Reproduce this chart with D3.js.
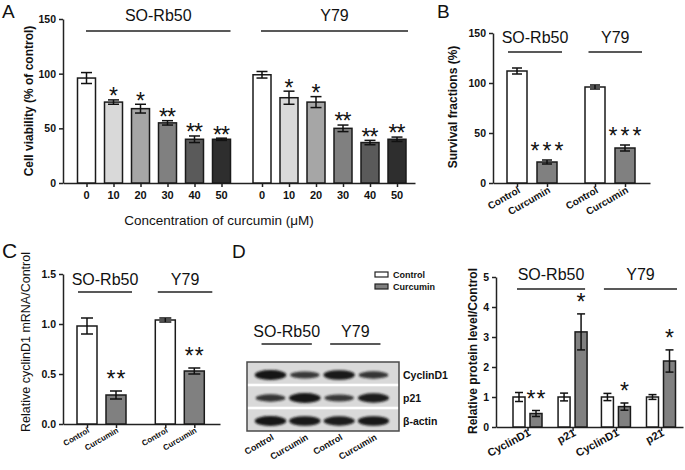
<!DOCTYPE html>
<html>
<head>
<meta charset="utf-8">
<script src="https://cdn.jsdelivr.net/npm/d3@7"></script>
<style>
body { margin: 0; background: #fff; }
text { font-family: "Liberation Sans", Arial, sans-serif; fill: #111; }
</style>
</head>
<body>
<div id="fig"></div>
<script>
// ---- data --------------------------------------------------------------
var groups = ["SO-Rb50", "Y79"];

// A: cell viability vs curcumin dose
var doses = ["0", "10", "20", "30", "40", "50"];
var viabSO = [96, 74, 68, 55, 40, 40];
var viabSOErr = [5, 2, 4, 2, 3, 1];
var viabY = [99, 78, 74, 50, 37, 40];
var viabYErr = [3, 6, 5, 3, 2, 2];
var viabStars = ["", "*", "*", "**", "**", "**"];
var viabTicks = [0, 50, 100, 150];

// B: survival fractions
var conds = ["Control", "Curcumin"];
var survSO = [112, 21];
var survSOErr = [3, 2];
var survY = [96, 35];
var survYErr = [2, 3];
var survStars = ["", "***"];
var survTicks = [0, 50, 100, 150];

// C: cyclinD1 mRNA
var mrnaSO = [0.98, 0.29];
var mrnaSOErr = [0.08, 0.04];
var mrnaY = [1.04, 0.53];
var mrnaYErr = [0.02, 0.03];
var mrnaStars = ["", "**"];
var mrnaTicks = [0, 0.5, 1.0, 1.5];

// D: protein level (CyclinD1 ctrl, CyclinD1 cur, p21 ctrl, p21 cur)
var proteins = ["CyclinD1", "p21"];
var protSO = [1.0, 0.45, 1.0, 3.17];
var protSOErr = [0.15, 0.1, 0.13, 0.6];
var protY = [1.0, 0.68, 1.0, 2.2];
var protYErr = [0.12, 0.12, 0.08, 0.37];
var protStarsSO = ["", "**", "", "*"];
var protStarsY = ["", "*", "", "*"];
var protTicks = [0, 1, 2, 3, 4, 5];

// D: western blot band strengths per lane
var blotRows = ["CyclinD1", "p21", "\u03b2-actin"];
var bandCyclin = [1.0, 0.55, 0.95, 0.6];
var bandP21 = [0.6, 1.0, 0.55, 0.9];
var bandActin = [1.0, 0.95, 0.9, 0.95];

var doseFills = ["#ffffff", "#d9d9d9", "#a6a6a6", "#808080", "#5a5a5a", "#2e2e2e"];
var ctrlFill = "#ffffff", curFill = "#808080";

var W = 685, H = 470;
var svg = d3.select('#fig').append('svg')
    .attr('width', W).attr('height', H)
    .attr('viewBox', '0 0 ' + W + ' ' + H);

svg.append('rect').attr('width', W).attr('height', H).attr('fill', '#fff');

var STAR_SIZE = 23;

// ---- generic bar panel -------------------------------------------------
function drawPanel(o) {
    var g = svg.append('g');
    var y = d3.scaleLinear().domain([0, o.yMax]).range([o.yBase, o.yTop]);
    var x = d3.scaleLinear().domain(o.posDomain).range(o.posRange);
    var xa = x.copy().domain([x.invert(o.x0), x.invert(o.x1)]).range([o.x0, o.x1]);

    // y axis
    var yAx = g.append('g')
        .attr('transform', 'translate(' + o.x0 + ',0)')
        .call(d3.axisLeft(y).tickValues(o.ticks).tickSize(4).tickSizeOuter(0).tickFormat(o.fmt));
    yAx.selectAll('path,line').attr('stroke', '#222').attr('stroke-width', 1.5);
    yAx.selectAll('text').attr('font-size', 10.5).attr('font-weight', 'bold').attr('fill', '#111');

    // x axis
    var xAx = g.append('g')
        .attr('transform', 'translate(0,' + o.yBase + ')')
        .call(d3.axisBottom(xa).tickValues(o.tickPos).tickSize(4).tickSizeOuter(0).tickFormat(''));
    xAx.selectAll('path,line').attr('stroke', '#222').attr('stroke-width', 1.5);

    // x labels
    o.tickPos.forEach(function (p, i) {
        var t = g.append('text')
            .attr('font-size', o.xlSize)
            .attr('font-weight', 'bold')
            .text(o.xLabels[i]);
        if (o.xlRot) {
            t.attr('text-anchor', 'end')
                .attr('transform', 'translate(' + (x(p) + o.xlDx) + ',' + (o.yBase + o.xlDy) + ') rotate(' + (-o.xlRot) + ')');
        } else {
            t.attr('text-anchor', 'middle').attr('x', x(p)).attr('y', o.yBase + o.xlDy);
        }
    });

    groups.forEach(function (name, gi) {
        var pos = o.pos[gi], m = o.means[gi], e = o.errs[gi], st = o.stars[gi];
        var bg = g.append('g');
        pos.forEach(function (p, i) {
            var cx = x(p);
            bg.append('rect')
                .attr('x', cx - o.barW / 2)
                .attr('y', y(m[i]))
                .attr('width', o.barW)
                .attr('height', o.yBase - y(m[i]))
                .attr('fill', o.fill(i))
                .attr('stroke', '#1a1a1a')
                .attr('stroke-width', 1.5);
            var top = y(m[i] + e[i]), bot = y(m[i] - e[i]);
            bg.append('line').attr('x1', cx).attr('x2', cx).attr('y1', top).attr('y2', bot)
                .attr('stroke', '#111').attr('stroke-width', 1.5);
            [top, bot].forEach(function (yy) {
                bg.append('line').attr('x1', cx - o.cap / 2).attr('x2', cx + o.cap / 2)
                    .attr('y1', yy).attr('y2', yy)
                    .attr('stroke', '#111').attr('stroke-width', 1.5);
            });
            if (st[i]) {
                bg.append('text')
                    .attr('x', cx + o.starSp / 2)
                    .attr('y', top - o.starGap + 0.32 * STAR_SIZE)
                    .attr('text-anchor', 'middle')
                    .attr('font-size', STAR_SIZE)
                    .attr('letter-spacing', o.starSp)
                    .attr('fill', '#222')
                    .text(st[i]);
            }
        });
        var lx1 = x(pos[0]) + o.lineOff[gi][0];
        var lx2 = x(pos[pos.length - 1]) + o.lineOff[gi][1];
        g.append('line').attr('x1', lx1).attr('x2', lx2)
            .attr('y1', o.lineY).attr('y2', o.lineY)
            .attr('stroke', '#222').attr('stroke-width', 1.3);
        g.append('text')
            .attr('x', (lx1 + lx2) / 2)
            .attr('y', o.labelY)
            .attr('text-anchor', 'middle')
            .attr('font-size', 16)
            .attr('fill', '#222')
            .text(name);
    });

    // y title
    g.append('text')
        .attr('transform', 'translate(' + o.titleX + ',' + o.titleY + ') rotate(-90)')
        .attr('text-anchor', 'middle')
        .attr('font-size', o.titleSize)
        .attr('font-weight', o.titleWeight)
        .text(o.title);
    return g;
}

function panelLetter(t, x, y, s) {
    svg.append('text').attr('x', x).attr('y', y).attr('font-size', s).attr('fill', '#000').text(t);
}

// ---- A ------------------------------------------------------------------
var posA = [d3.range(6), d3.range(6).map(function (i) { return i + 6.5; })];
drawPanel({
    x0: 63, x1: 415, yBase: 183, yTop: 19, yMax: 150,
    ticks: viabTicks, fmt: d3.format('d'),
    posDomain: [0, 11.5], posRange: [86.5, 397],
    pos: posA, tickPos: posA[0].concat(posA[1]),
    xLabels: doses.concat(doses), xlSize: 11, xlRot: 0, xlDy: 199 - 183,
    barW: 18, cap: 11,
    means: [viabSO, viabY], errs: [viabSOErr, viabYErr],
    stars: [viabStars, viabStars], starGap: 3, starSp: -1,
    fill: function (i) { return doseFills[i]; },
    lineY: 31, labelY: 21, lineOff: [[-0.5, 9], [-1, 11]],
    title: 'Cell viability (% of control)', titleX: 33, titleY: 101, titleSize: 12, titleWeight: 'bold'
});
svg.append('text').attr('x', 219).attr('y', 225).attr('text-anchor', 'middle')
    .attr('font-size', 13.5).text('Concentration of curcumin (\u03bcM)');
panelLetter('A', 2, 18, 19);

// ---- B ------------------------------------------------------------------
var posB = [[0, 1], [2.6, 3.6]];
drawPanel({
    x0: 493, x1: 650, yBase: 183, yTop: 33, yMax: 150,
    ticks: survTicks, fmt: d3.format('d'),
    posDomain: [0, 3.6], posRange: [517, 625],
    pos: posB, tickPos: posB[0].concat(posB[1]),
    xLabels: conds.concat(conds), xlSize: 10, xlRot: 30, xlDx: 4, xlDy: 9,
    barW: 20, cap: 10,
    means: [survSO, survY], errs: [survSOErr, survYErr],
    stars: [survStars, survStars], starGap: 8, starSp: 3,
    fill: function (i) { return i ? curFill : ctrlFill; },
    lineY: 52, labelY: 43, lineOff: [[-9, 15], [-6.5, 17]],
    title: 'Survival fractions (%)', titleX: 457, titleY: 107, titleSize: 12, titleWeight: 'bold'
});
panelLetter('B', 437, 18, 19);

// ---- C ------------------------------------------------------------------
var posC = [[0, 1], [2.7, 3.7]];
drawPanel({
    x0: 63, x1: 220, yBase: 424, yTop: 274, yMax: 1.5,
    ticks: mrnaTicks, fmt: d3.format('.1f'),
    posDomain: [0, 3.7], posRange: [87, 194.3],
    pos: posC, tickPos: posC[0].concat(posC[1]),
    xLabels: conds.concat(conds), xlSize: 8, xlRot: 30, xlDx: 3, xlDy: 8,
    barW: 20, cap: 12,
    means: [mrnaSO, mrnaY], errs: [mrnaSOErr, mrnaYErr],
    stars: [mrnaStars, mrnaStars], starGap: 11, starSp: 1,
    fill: function (i) { return i ? curFill : ctrlFill; },
    lineY: 292, labelY: 285, lineOff: [[-9, 16], [-7.5, 18]],
    title: 'Relative cyclinD1 mRNA/Control', titleX: 30, titleY: 342, titleSize: 12.5, titleWeight: 'normal'
});
panelLetter('C', 2, 258, 21);

// ---- D (bars) -----------------------------------------------------------
var posD = [[0, 1, 2.65, 3.65], [5.2, 6.2, 7.85, 8.85]];
drawPanel({
    x0: 496, x1: 683, yBase: 427, yTop: 277, yMax: 5,
    ticks: protTicks, fmt: d3.format('d'),
    posDomain: [0, 8.85], posRange: [519, 669.5],
    pos: posD, tickPos: [0.5, 3.15, 5.7, 8.35],
    xLabels: proteins.concat(proteins), xlSize: 11, xlRot: 28, xlDx: 4, xlDy: 8,
    barW: 12, cap: 8,
    means: [protSO, protY], errs: [protSOErr, protYErr],
    stars: [protStarsSO, protStarsY], starGap: 11, starSp: 1,
    fill: function (i) { return i % 2 ? curFill : ctrlFill; },
    lineY: 289, labelY: 280, lineOff: [[-2, 4], [-3.5, 7.5]],
    title: 'Relative protein level/Control', titleX: 477, titleY: 351, titleSize: 12, titleWeight: 'bold'
});
panelLetter('D', 232, 258, 19);

// legend
[[ctrlFill, 'Control'], [curFill, 'Curcumin']].forEach(function (d, i) {
    svg.append('rect').attr('x', 375).attr('y', 272 + i * 12).attr('width', 13).attr('height', 5)
        .attr('fill', d[0]).attr('stroke', '#222').attr('stroke-width', 1.2);
    svg.append('text').attr('x', 393).attr('y', 278 + i * 12).attr('font-size', 9)
        .attr('font-weight', 'bold').text(d[1]);
});

// ---- D (western blot) ---------------------------------------------------
var defs = svg.append('defs');
defs.append('filter').attr('id', 'blur').attr('x', '-20%').attr('y', '-80%').attr('width', '140%').attr('height', '260%')
    .append('feGaussianBlur').attr('stdDeviation', 1.2);

var lane = d3.scaleBand().domain(d3.range(4)).range([252, 392]).padding(0.08);
var row = d3.scaleBand().domain(blotRows).range([362, 431]);
var blot = svg.append('g');
blot.append('rect').attr('x', 247).attr('y', 362).attr('width', 152).attr('height', 69)
    .attr('fill', '#d9d9d9');
[bandCyclin, bandP21, bandActin].forEach(function (bands, r) {
    var cy = row(blotRows[r]) + row.bandwidth() / 2 + 1.5;
    bands.forEach(function (v, li) {
        var cx = lane(li) + lane.bandwidth() / 2;
        blot.append('ellipse')
            .attr('cx', cx).attr('cy', cy)
            .attr('rx', lane.bandwidth() / 2 * (0.85 + 0.15 * v))
            .attr('ry', 1.6 + 3.4 * v)
            .attr('fill', '#151515')
            .attr('opacity', 0.6 + 0.4 * v)
            .attr('filter', 'url(#blur)');
    });
    blot.append('text').attr('x', 403).attr('y', cy + 3.5)
        .attr('font-size', 10.5).attr('font-weight', 'bold').text(blotRows[r]);
});
[385, 408].forEach(function (yy) {
    blot.append('rect').attr('x', 247).attr('y', yy - 1.3).attr('width', 152).attr('height', 2.6).attr('fill', '#fff');
});
blot.append('rect').attr('x', 247).attr('y', 362).attr('width', 152).attr('height', 69)
    .attr('fill', 'none').attr('stroke', '#4a4a4a').attr('stroke-width', 1.5);

d3.range(4).forEach(function (li) {
    var cx = lane(li) + lane.bandwidth() / 2;
    blot.append('text')
        .attr('text-anchor', 'end')
        .attr('transform', 'translate(' + (cx + 4) + ',439) rotate(-30)')
        .attr('font-size', 9).attr('font-weight', 'bold')
        .text(conds[li % 2]);
});
groups.forEach(function (name, gi) {
    var c1 = lane(gi * 2) + lane.bandwidth() / 2, c2 = lane(gi * 2 + 1) + lane.bandwidth() / 2;
    var lx1 = c1 - 9, lx2 = c2 + 7;
    blot.append('line').attr('x1', lx1).attr('x2', lx2).attr('y1', 344).attr('y2', 344)
        .attr('stroke', '#222').attr('stroke-width', 1.3);
    blot.append('text').attr('x', (lx1 + lx2) / 2).attr('y', 337).attr('text-anchor', 'middle')
        .attr('font-size', 16).attr('fill', '#222').text(name);
});
</script>
</body>
</html>
